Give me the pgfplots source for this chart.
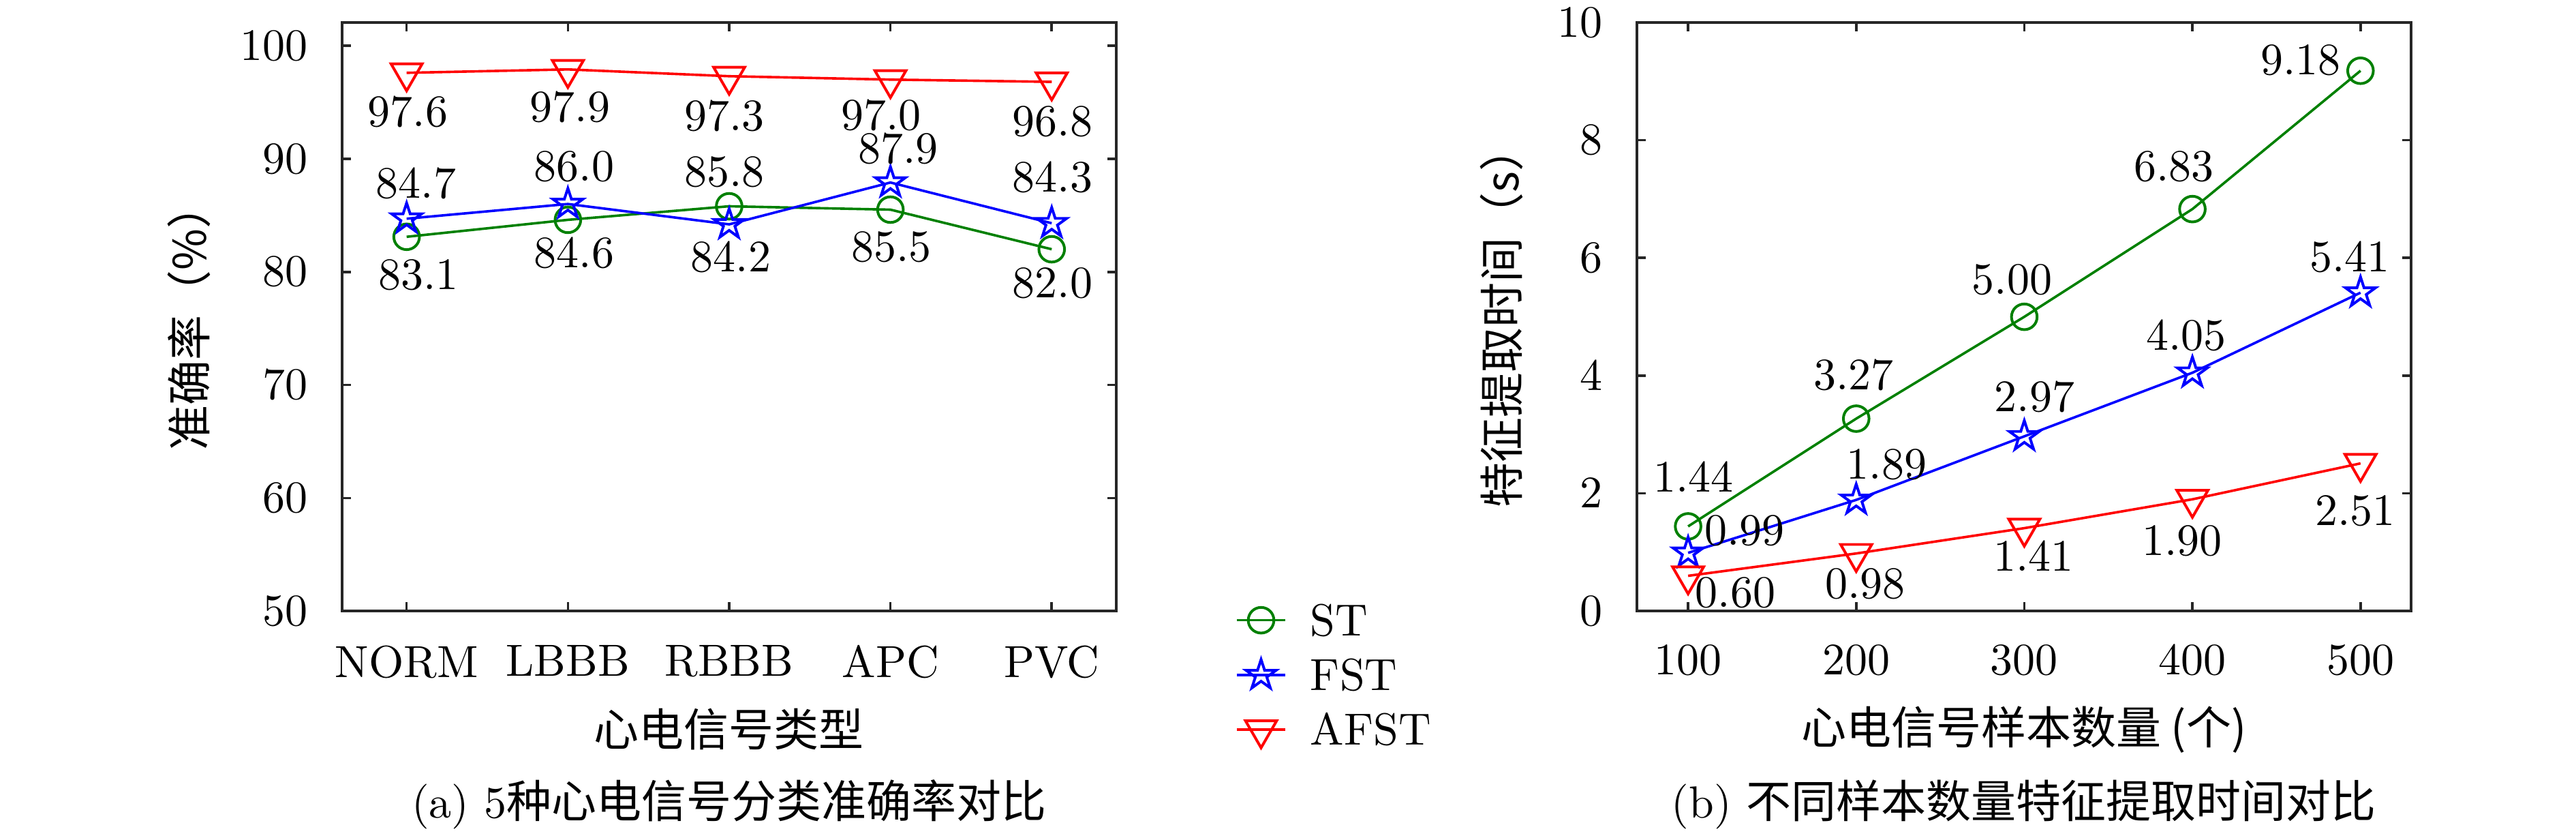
\documentclass[border=0pt]{standalone}
\usepackage{fontspec}
\usepackage{pgfplots}
\pgfplotsset{compat=1.18}
\newfontfamily\cjk{Noto Sans CJK SC}
\definecolor{mgreen}{RGB}{0,128,0}
\definecolor{axgray}{RGB}{38,38,38}
\pgfdeclareplotmark{pentagram}{%
 \pgfpathmoveto{\pgfpointpolar{90}{\pgfplotmarksize}}%
 \pgfpathlineto{\pgfpointpolar{126}{0.382\pgfplotmarksize}}%
 \pgfpathlineto{\pgfpointpolar{162}{\pgfplotmarksize}}%
 \pgfpathlineto{\pgfpointpolar{198}{0.382\pgfplotmarksize}}%
 \pgfpathlineto{\pgfpointpolar{234}{\pgfplotmarksize}}%
 \pgfpathlineto{\pgfpointpolar{270}{0.382\pgfplotmarksize}}%
 \pgfpathlineto{\pgfpointpolar{306}{\pgfplotmarksize}}%
 \pgfpathlineto{\pgfpointpolar{342}{0.382\pgfplotmarksize}}%
 \pgfpathlineto{\pgfpointpolar{18}{\pgfplotmarksize}}%
 \pgfpathlineto{\pgfpointpolar{54}{0.382\pgfplotmarksize}}%
 \pgfpathclose
 \pgfusepathqstroke
}
\pgfplotsset{
 myax/.style={
  scale only axis, width=172.1pt, height=130.8pt, clip=false,
  axis line style={axgray, line width=0.55pt},
  tick style={axgray, line width=0.55pt},
  major tick length=2pt, tick align=inside,
  xtick pos=both, ytick pos=both,
  yticklabel style={xshift=-4.1pt},
  xticklabel style={yshift=-4.1pt},
  xlabel style={at={(axis description cs:0.5,-0.2011)}, anchor=center},
  legend image code/.code={\draw[mark repeat=2,mark phase=2] plot coordinates {(0pt,0pt)(5.4pt,0pt)(10.8pt,0pt)};},
 },
 lbl/.style={nodes near coords={\pgfplotspointmeta}, point meta=explicit symbolic,
  visualization depends on={value \thisrow{dx}\as\dx},
  visualization depends on={value \thisrow{dy}\as\dy},
  nodes near coords style={anchor=center, xshift=\dx pt, yshift=\dy pt, text=black, inner sep=0pt}},
 stS/.style={color=mgreen, line width=0.55pt, mark=o, mark size=2.85pt, mark options={solid, line width=0.6pt}},
 fstS/.style={color=blue, line width=0.55pt, mark=pentagram, mark size=3.5pt, mark options={solid, line width=0.6pt}},
 afstS/.style={color=red, line width=0.55pt, mark=triangle, mark size=4pt, mark options={solid, rotate=180, line width=0.6pt}},
}
\begin{document}
\begin{tikzpicture}
\path[use as bounding box] (0,0) rectangle (572.7pt,-186.1pt);
\begin{axis}[myax, at={(76.06pt,-5pt)}, anchor=north west,
  xmin=-0.4, xmax=4.4, ymin=50, ymax=102.05,
  xtick={0,1,2,3,4}, xticklabels={NORM,LBBB,RBBB,APC,PVC},
  ytick={50,60,70,80,90,100},
  xlabel={\cjk{心电信号类型}},
  ylabel={\cjk{准确率（}\%\cjk{）}},
  ylabel style={at={(axis description cs:-0.1976,0.5)}, anchor=center},
  legend style={at={(axis description cs:1.153,0.0122)}, anchor=north west, draw=none, fill=none, inner sep=0pt, row sep=5.3pt, column sep=5.3pt, nodes={inner sep=0pt, text height=6.83pt, text depth=0pt}},
  legend cell align=left,
]
\addplot[stS, lbl] table[x=x, y=y, meta=lab] {
x y lab dx dy
0 83.1 83.1 2.6 -8.5
1 84.6 84.6 1.4 -7.3
2 85.8 85.8 -1.1 7.6
3 85.5 85.5 0.2 -8.3
4 82.0 82.0 0.2 -7.6
};
\addlegendentry{ST}
\addplot[fstS, lbl] table[x=x, y=y, meta=lab] {
x y lab dx dy
0 84.7 84.7 2.1 7.9
1 86.0 86.0 1.4 8.3
2 84.2 84.2 0.4 -7.3
3 87.9 87.9 1.7 7.6
4 84.3 84.3 0.2 10.2
};
\addlegendentry{FST}
\addplot[afstS, lbl] table[x=x, y=y, meta=lab] {
x y lab dx dy
0 97.6 97.6 0.3 -8.6
1 97.9 97.9 0.5 -8.3
2 97.3 97.3 -1.1 -8.8
3 97.0 97.0 -2.1 -7.9
4 96.8 96.8 0.2 -8.8
};
\addlegendentry{AFST}
\node[anchor=center] at (axis description cs:0.5,-0.3287) {(a) 5\cjk{种心电信号分类准确率对比}};
\end{axis}
\begin{axis}[myax, at={(363.9pt,-5pt)}, anchor=north west,
  xmin=69.5, xmax=530, ymin=0, ymax=10,
  xtick={100,200,300,400,500},
  ytick={0,2,4,6,8,10},
  xlabel={\cjk{心电信号样本数量} (\cjk{个})},
  ylabel={\cjk{特征提取时间（}s\cjk{）}},
  ylabel style={at={(axis description cs:-0.1744,0.5)}, anchor=center},
]
\addplot[stS, lbl] table[x=x, y=y, meta=lab] {
x y lab dx dy
100 1.44 1.44 1.2 11.1
200 3.27 3.27 -0.6 9.7
300 5.00 5.00 -2.7 8.3
400 6.83 6.83 -4.1 9.4
500 9.18 9.18 -13.3 2.3
};
\addplot[fstS, lbl] table[x=x, y=y, meta=lab] {
x y lab dx dy
100 0.99 0.99 12.6 5.0
200 1.89 1.89 6.8 7.9
300 2.97 2.97 2.3 8.8
400 4.05 4.05 -1.4 8.3
500 5.41 5.41 -2.4 7.9
};
\addplot[afstS, lbl] table[x=x, y=y, meta=lab] {
x y lab dx dy
100 0.60 0.60 10.5 -3.8
200 0.98 0.98 2.0 -6.8
300 1.41 1.41 2.1 -6.1
400 1.90 1.90 -2.3 -9.2
500 2.51 2.51 -1.2 -10.6
};
\node[anchor=center] at (axis description cs:0.5,-0.3287) {(b) \cjk{不同样本数量特征提取时间对比}};
\end{axis}
\end{tikzpicture}
\end{document}
